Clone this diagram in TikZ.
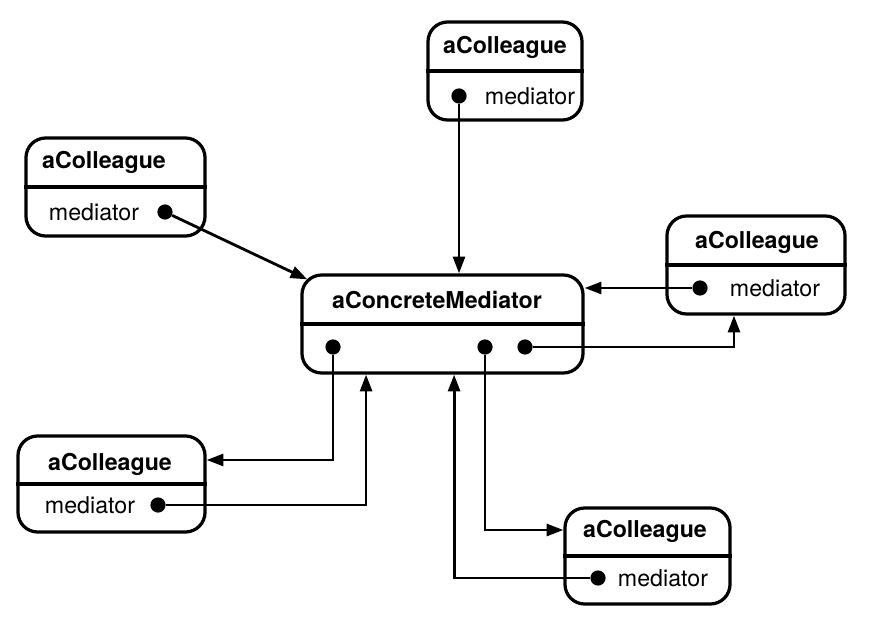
\documentclass[tikz,border=0pt]{standalone}
\usepackage{fontspec}
\setmainfont{TeX Gyre Heros}
\usetikzlibrary{arrows.meta}
\tikzset{
  doituong/.style={draw, line width=2.3pt, rounded corners=14pt, minimum height=2.45cm},
  ten/.style={font=\fontsize{16.5}{18}\selectfont\bfseries, inner sep=0pt},
  thuoctinh/.style={font=\fontsize{16.5}{18}\selectfont, inner sep=0pt},
  cham/.style={circle, fill, inner sep=0pt, minimum size=0.38cm},
  noi/.style={line width=2pt, -{Triangle[length=0.42cm, width=0.3cm]}},
}
\begin{document}
\begin{tikzpicture}[x=0.025cm, y=-0.025cm]
  \useasboundingbox (0,0) rectangle (884,624);
  % Mediator
  \node[doituong, minimum width=7.025cm] (m) at (442.5,324) {};
  \draw[line width=2.3pt] (m.west) -- (m.east);
  \node[ten] (mten) at (437,300) {aConcreteMediator};
  \node[cham] (md1) at (333,347) {};
  \node[cham] (md2) at (485,347) {};
  \node[cham] (md3) at (525,347) {};
  % Colleague tren
  \node[doituong, minimum width=3.85cm] (c1) at (505,71) {};
  \draw[line width=2.3pt] (c1.west) -- (c1.east);
  \node[ten] (c1ten) at (505,47) {aColleague};
  \node[cham] (c1d) at (459,96) {};
  \node[thuoctinh] (c1tt) at (530,96) {mediator};
  % Colleague trai tren
  \node[doituong, minimum width=4.475cm] (c2) at (115.5,187) {};
  \draw[line width=2.3pt] (c2.west) -- (c2.east);
  \node[ten] (c2ten) at (104,162) {aColleague};
  \node[thuoctinh] (c2tt) at (94,212) {mediator};
  \node[cham] (c2d) at (165,212) {};
  % Colleague phai
  \node[doituong, minimum width=4.45cm] (c3) at (756,265) {};
  \draw[line width=2.3pt] (c3.west) -- (c3.east);
  \node[ten] (c3ten) at (757,242) {aColleague};
  \node[cham] (c3d) at (700,288) {};
  \node[thuoctinh] (c3tt) at (775,288) {mediator};
  % Colleague trai duoi
  \node[doituong, minimum width=4.675cm, minimum height=2.4cm] (c4) at (111.5,484) {};
  \draw[line width=2.3pt] (c4.west) -- (c4.east);
  \node[ten] (c4ten) at (110,464) {aColleague};
  \node[thuoctinh] (c4tt) at (90,505) {mediator};
  \node[cham] (c4d) at (158,505) {};
  % Colleague phai duoi
  \node[doituong, minimum width=4.125cm, minimum height=2.4cm] (c5) at (647.5,556) {};
  \draw[line width=2.3pt] (c5.west) -- (c5.east);
  \node[ten] (c5ten) at (645,531) {aColleague};
  \node[cham] (c5d) at (598,578) {};
  \node[thuoctinh] (c5tt) at (663,578) {mediator};
  % Lien ket
  \coordinate (mtl) at ([shift={(7,6)}]m.north west);
  \draw[noi] (c1d) -- (c1d |- m.north);
  \draw[noi] (c2d) -- (mtl);
  \draw[noi] (c3d) -- (c3d -| m.east);
  \draw[noi] (md3) -| ([xshift=-0.55cm]c3.south);
  \draw[noi] (md1) |- ([yshift=0.6cm]c4.east);
  \draw[noi] (c4d) -| ([xshift=-1.91cm]m.south);
  \draw[noi] (c5d) -| ([xshift=0.29cm]m.south);
  \draw[noi] (md2) |- ([yshift=0.65cm]c5.west);
\end{tikzpicture}
\end{document}
